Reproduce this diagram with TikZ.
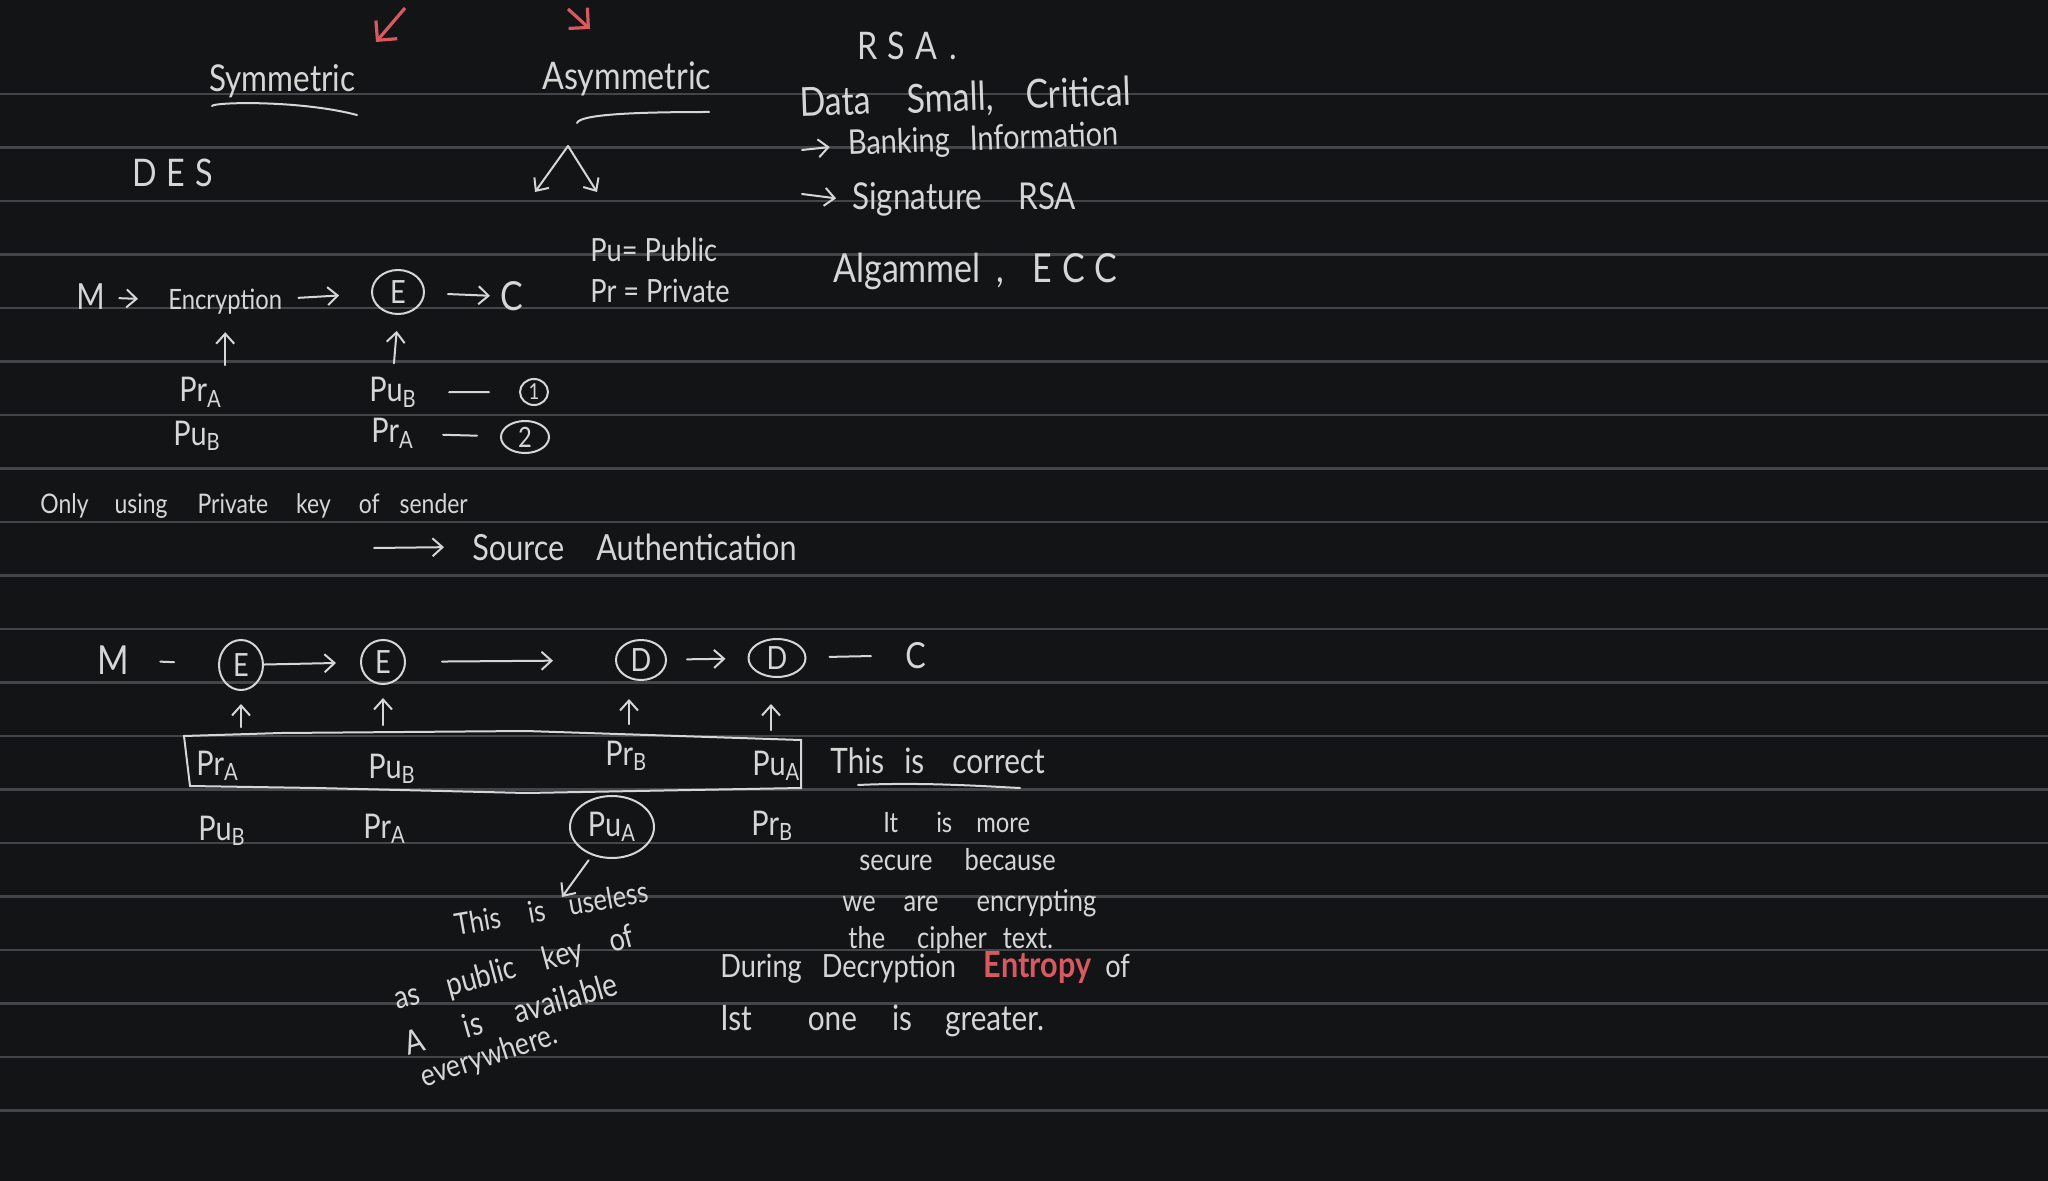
\documentclass[tikz,border=0pt]{standalone}
\usepackage{fontspec}
\setmainfont{Lato}[FakeStretch=0.85]
\usetikzlibrary{arrows.meta,shapes.geometric}
\definecolor{board}{HTML}{131416}
\definecolor{ruling}{HTML}{444548}
\definecolor{chalk}{HTML}{D6D6D6}
\definecolor{marker}{HTML}{D85A60}
\newcommand\fs[1]{\fontsize{#1}{#1}\selectfont}
\newcommand\gp[1]{\hspace{#1pt}}
\newcommand\pk[2]{P#1\textsubscript{#2}}

\begin{document}
\begin{tikzpicture}[x=0.5pt, y=-0.5pt,
    every node/.style={text=chalk, inner sep=2pt, anchor=base west},
    ring/.style={ellipse, draw=chalk, line width=1pt, inner sep=0pt, anchor=center},
    key/.style={font=\fs{17}},
    hand/.style={draw=chalk, line width=1pt, line cap=round, -{Straight Barb[length=5pt,width=9pt]}},
    stroke/.style={draw=chalk, line width=1pt, line cap=round},
    redarrow/.style={draw=marker, line width=1.6pt, -{Straight Barb[length=7pt,width=14pt]}},
    rule/.style={draw=ruling, line width=1.3pt}
]
\useasboundingbox (0,0) rectangle (2048,1181);
\fill[board] (0,0) rectangle (2048,1181);
\foreach \k in {0,...,19}
    \draw[rule] (0,{94+53.5*\k}) -- (2048,{94+53.5*\k});

% Symmetric / Asymmetric
\coordinate (ra0) at (405,8);
\coordinate (ra1) at (376,42);
\coordinate (rb0) at (568,9);
\coordinate (rb1) at (590,29);
\draw[redarrow] (ra0) -- (ra1);
\draw[redarrow] (rb0) -- (rb1);

\node[font=\fs{18.5}] (sym) at (205,92) {Symmetric};
\node[font=\fs{19}] (asym) at (538,90) {Asymmetric};
\draw[stroke] (212,106) .. controls (214,102) and (300,100) .. (357,115);
\draw[stroke] (577,123) .. controls (580,114) and (640,112) .. (709,112);
\node[font=\fs{19}] (des) at (128,187) {D\kern5pt E\kern5pt S};

\coordinate (vtop) at (568,146);
\coordinate (vl) at (535,192);
\coordinate (vr) at (597,192);
\draw[hand] (vtop) -- (vl);
\draw[hand] (vtop) -- (vr);

\node[font=\fs{16}] (pub) at (586,262) {Pu= Public};
\node[font=\fs{16}] (prv) at (586,303) {Pr = Private};

% RSA
\node[font=\fs{19}] (rsa) at (853,60) {R\kern5pt S\kern5pt A\kern6pt.};
\node[font=\fs{20}, rotate=2] (data) at (796,117) {Data\gp{18}Small,\gp{16}Critical};
\node[font=\fs{17}, rotate=2] (bank) at (844,155) {Banking\gp{10}Information};
\node[font=\fs{18.5}] (sig) at (848,210) {Signature\gp{18}RSA};
\node[font=\fs{20}] (alg) at (829,283) {Algammel\gp{8},\gp{14}E\kern5pt C\kern5pt C};
\coordinate (bk0) at (802,150);
\coordinate (sg0) at (802,194);
\draw[hand, shorten >=7pt] (bk0) -- (bank.west);
\draw[hand, shorten >=6pt] (sg0) -- (sig.west);

% M -> Encryption -> E -> C
\node[font=\fs{18}] (m0) at (72,310) {M};
\node[font=\fs{14}] (enc) at (164,310) {Encryption};
\node[ring, minimum width=26pt, minimum height=22pt, font=\fs{16}] (e0) at (398,292) {E};
\node[font=\fs{20}] (c0) at (496,311) {C};
\draw[hand, shorten <=5pt, shorten >=13pt] (m0) -- (enc);
\draw[hand, shorten <=6pt, shorten >=16pt] (enc) -- (e0);
\draw[hand, shorten <=11.5pt, shorten >=3pt] (e0) -- (c0);

\node[key] (pra1) at (175,402) {\pk{r}{A}};
\node[key] (pub1) at (365,402) {\pk{u}{B}};
\node[key] (pub2) at (169,445) {\pk{u}{B}};
\node[key] (pra2) at (367,443) {\pk{r}{A}};
\node[ring, minimum width=14pt, minimum height=13pt, font=\fs{11}] (one) at (534,392) {1};
\node[ring, minimum width=24pt, minimum height=16pt, font=\fs{14}] (two) at (525,437) {2};
\draw[hand, shorten <=4pt, shorten >=6.5pt] (pra1.north -| enc) -- (enc.south);
\draw[hand, shorten <=5pt, shorten >=8pt] (pub1.north) -- (e0.south);
\draw[stroke, shorten <=14pt, shorten >=15pt] (pub1) -- (one);
\draw[stroke, shorten <=12.5pt, shorten >=11.5pt] (pra2) -- (two);

\node[font=\fs{13.5}] (only) at (36,513) {Only\gp{13}using\gp{15}Private\gp{14}key\gp{14}of\gp{10}sender};
\node[font=\fs{18}] (src) at (468,560) {Source\gp{16}Authentication};
\coordinate (sa0) at (374,548);
\draw[hand, shorten >=12pt] (sa0) -- (src.west);

% M - E -> E -> D -> D - C
\node[font=\fs{20}] (m1) at (93,674) {M};
\node[ring, minimum width=22pt, minimum height=25pt, font=\fs{16}] (e1) at (241,665) {E};
\node[ring, minimum width=22pt, minimum height=22pt, font=\fs{16}] (e2) at (383,662) {E};
\node[ring, minimum width=25pt, minimum height=20pt, font=\fs{16}] (d1) at (641,660) {D};
\node[ring, minimum width=28.5pt, minimum height=19pt, font=\fs{16}] (d2) at (777,658) {D};
\node[font=\fs{18}] (c1) at (901,668) {C};
\draw[stroke, shorten <=13.5pt, shorten >=22pt] (m1) -- (e1);
\draw[hand, shorten >=12pt] (e1) -- (e2);
\draw[hand, shorten <=18pt, shorten >=31pt] (e2) -- (d1);
\draw[hand, shorten <=10pt, shorten >=11pt] (d1) -- (d2);
\draw[stroke, shorten <=11.5pt, shorten >=15pt] (d2) -- (c1);

\node[key] (k1) at (192,775) {\pk{r}{A}};
\node[key] (k2) at (364,778) {\pk{u}{B}};
\node[key] (k3) at (601,765) {\pk{r}{B}};
\node[key] (k4) at (748,775) {\pk{u}{A}};
\draw[hand, shorten <=9.5pt, shorten >=6.5pt] (k1.north -| e1) -- (e1.south);
\draw[hand, shorten <=12pt, shorten >=6.5pt] (k2.north -| e2) -- (e2.south);
\draw[hand, shorten <=6pt, shorten >=9pt] ([xshift=-6pt]k3.north -| d1) -- ([xshift=-6pt]d1.south);
\draw[hand, shorten <=8pt, shorten >=13pt] ([xshift=-3pt]k4.north -| d2) -- ([xshift=-3pt]d2.south);
\draw[stroke] (184,736) -- (281,733) -- (526,731) -- (801,740) -- (801,788)
    -- (526,793) -- (316,788) -- (190,786) -- cycle;

\node[key] (k5) at (194,840) {\pk{u}{B}};
\node[key] (k6) at (359,838) {\pk{r}{A}};
\node[ring, minimum width=42pt, minimum height=31pt, font=\fs{17}] (k7) at (612,827) {\pk{u}{A}};
\node[key] (k8) at (747,835) {\pk{r}{B}};

\node[font=\fs{17.5}] (cor) at (826,773) {This\gp{10}is\gp{14}correct};
\draw[stroke] (858,785) .. controls (920,782) and (980,786) .. (1020,788);
\node[font=\fs{14}] (more) at (879,832) {It\gp{19}is\gp{12}more};
\node[font=\fs{15}] (secure) at (855,870) {secure\gp{16}because};
\node[font=\fs{15}] (encr) at (838,911) {we\gp{14}are\gp{19}encrypting};
\node[font=\fs{15}] (ciph) at (844,948) {the\gp{16}cipher\gp{8}text.};
\node[font=\fs{16}] (during) at (716,977) {During\gp{10}Decryption\gp{14}{\color{marker}\fs{18}\bfseries Entropy}\gp{7}of};
\node[font=\fs{17.5}] (ist) at (716,1030) {Ist\gp{28}one\gp{17.5}is\gp{16.5}greater.};

% note on the circled key
\node[font=\fs{15}, anchor=base, rotate=10] (n1) at (553,919) {This\gp{14}is\gp{12}useless};
\node[font=\fs{16}, anchor=base, rotate=15] (n2) at (517,978) {as\gp{14}public\gp{14}key\gp{14}of};
\node[font=\fs{16.5}, anchor=base, rotate=16] (n3) at (514,1025) {A\gp{21}is\gp{17}available};
\node[font=\fs{15.5}, anchor=base, rotate=18] (n4) at (492,1065) {everywhere.};
\coordinate (nt) at (562,897);
\draw[hand, shorten <=3pt] (k7.235) -- (nt);

\end{tikzpicture}
\end{document}
